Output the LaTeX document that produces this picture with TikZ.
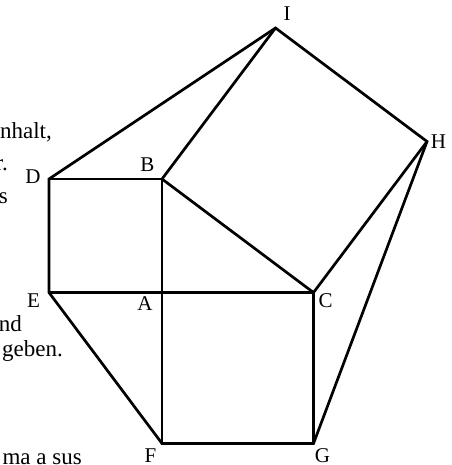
\documentclass[tikz,border=0pt]{standalone}
\usepackage{fontspec}
\setmainfont{Liberation Serif}
\begin{document}
\begin{tikzpicture}[x=1pt,y=-1pt,
  edge/.style={line width=2.7pt,line join=miter},
  lab/.style={inner sep=0pt,text depth=0pt,font=\fontsize{21}{25}\selectfont},
  frag/.style={inner sep=0pt,anchor=base east,font=\fontsize{23}{27}\selectfont}]
\useasboundingbox (0,0) rectangle (451,465);
\clip (0,0) rectangle (451,465);
% vertices
\coordinate (A) at (162,292.5);
\coordinate (B) at (162,179);
\coordinate (C) at (313.5,292.5);
\coordinate (D) at (49,179);
\coordinate (E) at (49,292.5);
\coordinate (F) at (162,443.5);
\coordinate (G) at (313.5,443.5);
\coordinate (I) at (275.5,28);
\coordinate (H) at (427,141.5);
% edges
\draw[edge] (D) -- (I) -- (H) -- (G) -- (F) -- (E) -- cycle;
\draw[edge] (D) -- (B);
\draw[edge] (B) -- (I);
\draw[edge] (B) -- (F);
\draw[edge] (E) -- (C);
\draw[edge] (B) -- (C);
\draw[edge] (C) -- (H);
\draw[edge] (C) -- (G);
% labels
\node[lab] (lI) at (287,14) {I};
\node[lab] (lH) at (438.5,142) {H};
\node[lab] (lD) at (33,177) {D};
\node[lab] (lB) at (147.5,165) {B};
\node[lab] (lE) at (33.5,300.5) {E};
\node[lab] (lA) at (145,303.5) {A};
\node[lab] (lC) at (325.5,300.5) {C};
\node[lab] (lF) at (150.5,455.5) {F};
\node[lab] (lG) at (322.5,455.5) {G};
% clipped text fragments of the surrounding page
\node[frag] (t1) at (52,139) {nhalt,};
\node[frag] (t2) at (8,170) {r.};
\node[frag] (t3) at (8,203) {s};
\node[frag] (t4) at (22,331) {nd};
\node[frag] (t5) at (63,356) {geben.};
\node[frag] (t6) at (82,464) {ma a sus};
\end{tikzpicture}
\end{document}
